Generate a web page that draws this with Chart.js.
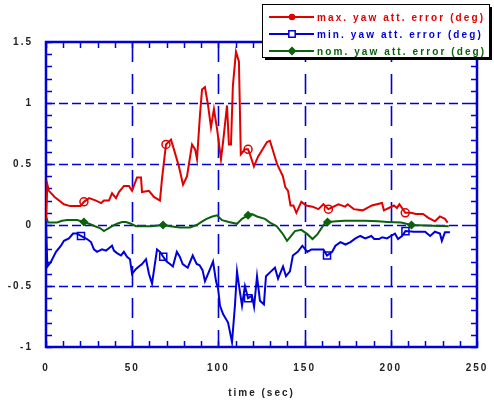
<!DOCTYPE html>
<html>
<head>
<meta charset="utf-8">
<script src="https://cdn.jsdelivr.net/npm/chart.js@4/dist/chart.umd.min.js"></script>
<style>
  html, body { margin: 0; padding: 0; background: #fff; }
  #wrap { width: 494px; height: 404px; }
</style>
</head>
<body>
<div id="wrap"><canvas id="yawChart" width="494" height="404"></canvas></div>
<script>
// yaw attitude error traces (time in sec, error in deg)
const maxTime = [0, 0.8, 1.7, 5, 10.4, 14, 20, 22, 25, 29, 32, 33.6, 36.5, 38.3, 40.6,
  42.3, 45.2, 48.1, 49.9, 52.8, 55.1, 55.7, 59.7, 62.6, 66.1, 67.3, 69.6, 72.5, 74.2, 77.1,
  79.5, 81.8, 84.7, 86.5, 87.6, 89.3, 90.5, 92.2, 94, 95.7, 97.4, 99.2, 101.5, 102.7, 105,
  106.1, 107.3, 108.4, 110.2, 111.9, 113, 115.4, 117.2, 118.3, 120.6, 123, 128.2, 129.9, 134,
  135.7, 137.4, 138.8, 140.4, 141.8, 143.5, 145.2, 148.1, 151, 154.6, 158, 160.9, 163.8,
  169.6, 173.5, 175, 178.5, 183.7, 189, 194.9, 196, 201.8, 203.6, 205, 208.4, 211.7, 214.6,
  218.7, 221.6, 225.6, 228.5, 231.4, 233];
const maxErr = [0.05, 0.33, 0.28, 0.23, 0.17, 0.155, 0.155, 0.19, 0.22, 0.2, 0.18, 0.2, 0.2, 0.26, 0.22,
  0.27, 0.32, 0.32, 0.28, 0.39, 0.39, 0.27, 0.28, 0.23, 0.2, 0.38, 0.66, 0.70, 0.62, 0.48,
  0.33, 0.40, 0.66, 0.62, 0.54, 0.9, 1.11, 1.13, 0.98, 0.8, 0.95, 0.79, 0.54, 0.68, 0.98,
  0.66, 0.66, 1.14, 1.42, 1.34, 0.58, 0.62, 0.62, 0.58, 0.48, 0.56, 0.68, 0.69, 0.5,
  0.45, 0.4, 0.31, 0.28, 0.16, 0.16, 0.1, 0.19, 0.16, 0.15, 0.13, 0.17, 0.13,
  0.17, 0.15, 0.17, 0.13, 0.12, 0.16, 0.18, 0.12, 0.16, 0.14, 0.17, 0.1, 0.1, 0.09,
  0.09, 0.06, 0.03, 0.07, 0.05, 0.02];

const minTime = [0, 0.8, 2.9, 5.8, 8.7, 10.4, 13.3, 15.7, 18, 20.3, 23.8, 26.1, 27.8, 29.6,
  32.5, 34.8, 36.5, 38.3, 39.4, 41.2, 43.5, 45.2, 47, 48.7, 49.9, 52.2, 53.9, 55.7, 58, 59.7,
  61.5, 64.4, 66.1, 68, 70, 71.9, 73.6, 75.9, 77.6, 79.3, 82.2, 85.1, 87.4, 89.1, 90.8, 92.2,
  94, 96.9, 98.6, 99.8, 100.9, 102.7, 105.6, 107.9, 109.6, 110.8, 112.5, 113.7, 115.4, 117.2,
  119.5, 120.7, 122.4, 124.1, 126.4, 127.6, 130.5, 132.8, 134.6, 137.5, 139.2, 141.5, 143.2,
  146, 148.7, 151.6, 154, 158, 160.9, 163, 166, 167.9, 170.8, 173.7, 176.6, 179.5, 182.3,
  185.2, 188.7, 190.4, 193.2, 195, 197.8, 200, 202.4, 204.2, 206.5, 208.5, 213.5, 219.9,
  222.8, 225.6, 228.5, 229.6, 231.4, 234.3];
const minErr = [0, -0.34, -0.3, -0.22, -0.17, -0.13, -0.11, -0.07, -0.07, -0.09, -0.115, -0.14, -0.2, -0.22,
  -0.2, -0.21, -0.19, -0.17, -0.21, -0.23, -0.25, -0.22, -0.26, -0.28, -0.4, -0.36, -0.34, -0.32, -0.28, -0.4,
  -0.48, -0.2, -0.22, -0.26, -0.3, -0.32, -0.34, -0.22, -0.26, -0.32, -0.35, -0.25, -0.32, -0.33, -0.37, -0.46,
  -0.4, -0.3, -0.46, -0.52, -0.66, -0.73, -0.8, -0.96, -0.66, -0.38, -0.55, -0.66, -0.5, -0.6,
  -0.58, -0.67, -0.42, -0.62, -0.65, -0.42, -0.38, -0.35, -0.44, -0.34, -0.42, -0.38, -0.25,
  -0.22, -0.17, -0.22, -0.2, -0.2, -0.2, -0.25, -0.22, -0.17, -0.14, -0.16, -0.14, -0.11, -0.09,
  -0.11, -0.09, -0.115, -0.115, -0.1, -0.11, -0.09, -0.07, -0.115, -0.09, -0.05, -0.055, -0.055,
  -0.09, -0.055, -0.07, -0.13, -0.06, -0.06];

const nomTime = [0, 1.2, 6.4, 9.3, 12.2, 18, 22, 25, 28.4, 31.3, 33.6, 35.3, 38.3, 41.2, 44.1,
  46.4, 49.3, 52.2, 56.8, 60.9, 67.9, 72, 77.7, 83.5, 87.4, 90.2, 93.1, 96.5, 99.2, 102.1,
  106.1, 110.8, 113.7, 117.2, 119.5, 122.4, 127, 129.9, 133.8, 137.2, 139.8, 141.6, 144.4,
  148.1, 151.6, 154.6, 157.5, 161.5, 163.3, 168.5, 173.1, 179, 185, 192.6, 198, 206, 212,
  220, 233.6];
const nomErr = [0.07, 0.02, 0.02, 0.035, 0.04, 0.04, 0.025, 0.01, -0.01, -0.025, -0.05, -0.035, -0.01, 0.01, 0.025,
  0.025, 0.01, -0.01, -0.01, -0.01, 0, -0.01, -0.02, -0.02, 0, 0.025, 0.05, 0.07, 0.08, 0.04,
  0.025, 0.01, 0.05, 0.08, 0.09, 0.07, 0.05, 0.02, -0.01, -0.07, -0.13, -0.1, -0.05,
  -0.04, -0.075, -0.115, -0.075, 0.01, 0.025, 0.03, 0.035, 0.035, 0.035, 0.03, 0.025, 0.02, 0,
  -0.005, -0.01];

// times where the symbol of each trace is plotted
const markTimes = [22, 69, 117, 164, 210];

const yTicks = [-1, -0.5, 0, 0.5, 1, 1.5];
const xTicks = [0, 50, 100, 150, 200, 250];

const red = '#e00000';
const blue = '#0000d8';
const green = '#0b620b';

function toPoints(ts, vs) {
  return ts.map((t, i) => ({ x: t, y: vs[i] }));
}

function markIndices(ts) {
  return markTimes.map(m => {
    let best = 0;
    ts.forEach((t, i) => { if (Math.abs(t - m) < Math.abs(ts[best] - m)) best = i; });
    return best;
  });
}

function series(label, ts, vs, color, style, radius, fill, legendRadius, legendFill) {
  const marks = markIndices(ts);
  return {
    label: label,
    data: toPoints(ts, vs),
    borderColor: color,
    borderWidth: 2,
    tension: 0,
    pointStyle: style,
    pointRadius: ctx => marks.includes(ctx.dataIndex) ? radius : 0,
    pointHoverRadius: 0,
    pointBorderColor: color,
    pointBorderWidth: 1.5,
    pointBackgroundColor: fill,
    legendRadius: legendRadius,
    legendFill: legendFill,
  };
}

const tickFont = { family: '"Liberation Sans", Arial, sans-serif', size: 10, weight: 'bold' };

// box, dashed grid, inward ticks and the boxed legend
const framePlugin = {
  id: 'frame',
  beforeDraw(chart) {
    chart.ctx.letterSpacing = '2px';
  },
  beforeDatasetsDraw(chart) {
    const { ctx, chartArea: a, scales } = chart;
    const xs = scales.x, ys = scales.y;
    ctx.save();
    ctx.strokeStyle = blue;
    ctx.lineWidth = 1.6;
    ctx.setLineDash([9, 4]);
    [-0.5, 0, 0.5, 1].forEach(v => {
      const y = Math.round(ys.getPixelForValue(v)) + 0.5;
      ctx.beginPath(); ctx.moveTo(a.left, y); ctx.lineTo(a.right, y); ctx.stroke();
    });
    ctx.setLineDash([20, 12]);
    [50, 100, 150, 200].forEach(v => {
      const x = Math.round(xs.getPixelForValue(v)) + 0.5;
      ctx.beginPath(); ctx.moveTo(x, a.top); ctx.lineTo(x, a.bottom); ctx.stroke();
    });
    ctx.setLineDash([]);
    ctx.lineWidth = 1.5;
    for (let v = -1; v <= 1.5001; v += 0.1) {
      const y = Math.round(ys.getPixelForValue(v)) + 0.5;
      ctx.beginPath();
      ctx.moveTo(a.left, y); ctx.lineTo(a.left + 6, y);
      ctx.moveTo(a.right, y); ctx.lineTo(a.right - 6, y);
      ctx.stroke();
    }
    for (let v = 0; v <= 250; v += 10) {
      const x = Math.round(xs.getPixelForValue(v)) + 0.5;
      ctx.beginPath();
      ctx.moveTo(x, a.bottom); ctx.lineTo(x, a.bottom - 6);
      ctx.moveTo(x, a.top); ctx.lineTo(x, a.top + 6);
      ctx.stroke();
    }
    ctx.lineWidth = 2.5;
    ctx.strokeRect(a.left, a.top, a.right - a.left, a.bottom - a.top);
    ctx.restore();
  },
  afterDraw(chart) {
    const ctx = chart.ctx;
    const bx = 262, by = 4, bw = 227, bh = 53;
    ctx.save();
    ctx.fillStyle = '#000';
    ctx.fillRect(bx + 3, by + 3, bw, bh);
    ctx.fillStyle = '#fff';
    ctx.fillRect(bx, by, bw, bh);
    ctx.strokeStyle = '#000';
    ctx.lineWidth = 1;
    ctx.strokeRect(bx + 0.5, by + 0.5, bw, bh);
    ctx.font = 'bold 10px "Liberation Sans", Arial, sans-serif';
    ctx.letterSpacing = '2.1px';
    ctx.textBaseline = 'middle';
    chart.data.datasets.forEach((ds, i) => {
      const y = by + 13 + i * 17;
      ctx.strokeStyle = ds.borderColor;
      ctx.lineWidth = 2;
      ctx.beginPath(); ctx.moveTo(bx + 7, y); ctx.lineTo(bx + 52, y); ctx.stroke();
      ctx.fillStyle = ds.legendFill;
      ctx.lineWidth = 1.5;
      Chart.helpers.drawPoint(ctx, {
        pointStyle: ds.pointStyle,
        radius: ds.legendRadius,
        borderWidth: 1.5,
        rotation: 0,
      }, bx + 30, y);
      ctx.fillStyle = ds.borderColor;
      ctx.fillText(ds.label, bx + 55, y + 1);
    });
    ctx.restore();
  }
};

new Chart(document.getElementById('yawChart'), {
  type: 'line',
  data: {
    datasets: [
      series('max. yaw att. error (deg)', maxTime, maxErr, red, 'circle', 4, 'rgba(0,0,0,0)', 2.5, red),
      series('min. yaw att. error (deg)', minTime, minErr, blue, 'rect', 5, 'rgba(0,0,0,0)', 4.5, '#fff'),
      series('nom. yaw att. error (deg)', nomTime, nomErr, green, 'rectRot', 3.5, green, 3.5, green),
    ]
  },
  options: {
    responsive: false,
    animation: false,
    events: [],
    layout: { padding: { top: 42, right: 17, bottom: 0, left: 0 } },
    plugins: { legend: { display: false }, tooltip: { enabled: false } },
    scales: {
      x: {
        type: 'linear',
        min: 0,
        max: 250,
        afterBuildTicks: s => { s.ticks = xTicks.map(v => ({ value: v })); },
        afterFit: s => { s.height = 57; s.paddingLeft = 0; s.paddingRight = 0; },
        grid: { display: false, drawTicks: false },
        border: { display: false },
        ticks: { color: '#222', font: tickFont, padding: 15, maxRotation: 0, callback: v => String(v) },
        title: {
          display: true,
          text: 'time (sec)',
          color: '#222',
          font: tickFont,
          padding: { top: 0, bottom: 5 }
        }
      },
      y: {
        min: -1,
        max: 1.5,
        afterBuildTicks: s => { s.ticks = yTicks.map(v => ({ value: v })); },
        afterFit: s => { s.width = 46; s.paddingTop = 0; s.paddingBottom = 0; },
        grid: { display: false, drawTicks: false },
        border: { display: false },
        ticks: { color: '#222', font: tickFont, padding: 13, callback: v => String(v) }
      }
    }
  },
  plugins: [framePlugin]
});
</script>
</body>
</html>
